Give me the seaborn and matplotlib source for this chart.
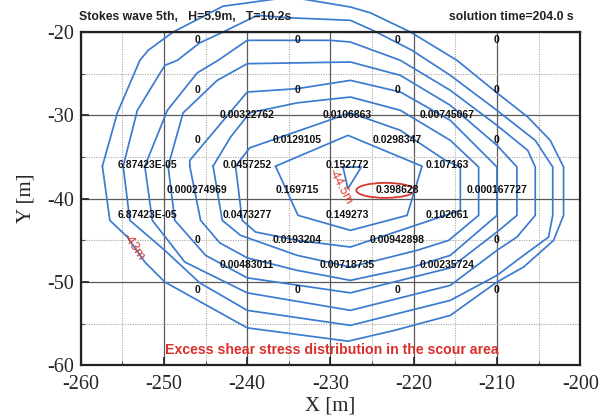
import matplotlib
matplotlib.use('Agg')
import pandas as pd
import matplotlib.pyplot as plt
import seaborn as sns
from matplotlib.patches import Ellipse
from matplotlib.ticker import MultipleLocator

# contour rings, outermost first
ring1_x = [-257.4, -255.6, -252.9, -251.9, -248.9, -242.9, -234.8, -227.6, -225.2, -220.4, -214.8, -210.0, -206.3,
           -203.6, -202.0, -202.0, -203.2, -206.8, -210.0, -215.6, -222.3, -227.9, -240.0, -249.9, -252.3, -254.4, -256.5]
ring1_y = [-36.1, -29.7, -23.4, -22.2, -20.0, -16.9, -15.8, -17.0, -17.7, -20.0, -23.4, -27.3, -30.2,
           -33.0, -36.2, -42.0, -45.0, -48.2, -50.0, -54.0, -55.8, -57.1, -55.5, -50.0, -47.6, -44.6, -42.6]
ring2_x = [-254.9, -253.2, -249.9, -248.4, -245.7, -242.9, -238.8, -234.8, -227.6, -224.9, -220.2, -215.6, -210.0,
           -205.4, -203.3, -203.3, -203.8, -206.8, -210.0, -215.6, -227.6, -240.0, -245.7, -249.9, -254.1]
ring2_y = [-36.1, -29.4, -24.0, -23.4, -21.3, -20.0, -18.0, -18.3, -18.6, -19.8, -22.2, -25.2, -29.4,
           -33.0, -36.2, -42.0, -44.6, -46.8, -49.2, -52.2, -55.2, -53.4, -50.1, -46.2, -42.6]
ring3_x = [-252.3, -249.6, -246.0, -243.5, -240.0, -230.0, -227.6, -221.6, -215.6, -210.0, -206.3, -205.4,
           -205.4, -207.6, -210.0, -215.6, -227.6, -240.0, -247.5, -251.4]
ring3_y = [-36.1, -29.4, -24.9, -23.4, -21.0, -21.0, -21.2, -23.4, -27.0, -31.2, -34.2, -36.2,
           -42.0, -44.6, -46.2, -50.4, -53.4, -51.3, -47.6, -42.6]
ring4_x = [-249.5, -247.7, -243.6, -240.0, -227.6, -221.6, -215.6, -210.0, -207.6, -207.6, -210.0, -215.6,
           -227.6, -240.0, -245.0, -248.7]
ring4_y = [-36.1, -29.7, -25.8, -23.8, -23.6, -25.2, -28.8, -33.6, -36.2, -42.0, -44.0, -48.3,
           -51.3, -49.5, -46.8, -42.6]
ring5_x = [-246.9, -246.9, -240.0, -234.0, -227.6, -221.6, -215.6, -210.0, -210.0, -215.6, -220.1, -227.6,
           -234.0, -240.0, -243.3, -245.6]
ring5_y = [-36.1, -35.4, -27.2, -26.8, -25.8, -27.2, -30.6, -36.2, -42.0, -46.8, -48.2, -49.8,
           -48.6, -47.1, -45.3, -42.6]
ring6_x = [-244.1, -242.0, -239.7, -234.0, -227.6, -221.6, -215.6, -212.2, -212.2, -215.8, -219.6, -227.6,
           -234.0, -240.8, -243.0]
ring6_y = [-36.1, -32.6, -29.7, -28.5, -27.8, -29.4, -33.0, -36.2, -42.0, -45.0, -46.2, -48.2,
           -46.8, -44.4, -42.6]
ring7_x = [-241.4, -239.7, -227.6, -221.6, -216.2, -214.4, -214.4, -220.4, -227.6, -234.0, -239.0, -240.6]
ring7_y = [-36.1, -33.9, -29.7, -31.8, -35.4, -36.2, -41.4, -43.4, -45.8, -45.0, -44.0, -42.6]
ring8_x = [-236.6, -227.9, -219.0, -220.8, -227.6, -233.9]
ring8_y = [-36.1, -32.4, -36.1, -42.0, -43.8, -42.0]
ring9_x = [-228.5, -226.3, -227.9]
ring9_y = [-36.2, -36.2, -38.8]

# nodal values of excess shear stress
node_x = [-246, -234, -222, -210,
          -246, -234, -222, -210,
          -240, -228, -216,
          -246, -234, -222, -210,
          -252, -240, -228, -216,
          -246, -234, -222, -210,
          -252, -240, -228, -216,
          -246, -234, -222, -210,
          -240, -228, -216,
          -246, -234, -222, -210]
node_y = [-21] * 4 + [-27] * 4 + [-30] * 3 + [-33] * 4 + [-36] * 4 + [-39] * 4 + [-42] * 4 + [-45] * 4 + \
         [-48] * 3 + [-51] * 4
node_val = ['0', '0', '0', '0',
            '0', '0', '0', '0',
            '0.00322762', '0.0106863', '0.00745067',
            '0', '0.0129105', '0.0298347', '0',
            '6.87423E-05', '0.0457252', '0.152772', '0.107163',
            '0.000274969', '0.169715', '0.398628', '0.000167727',
            '6.87423E-05', '0.0473277', '0.149273', '0.102061',
            '0', '0.0193204', '0.00942898', '0',
            '0.00483011', '0.00718735', '0.00235724',
            '0', '0', '0', '0']

rings = [(ring1_x, ring1_y), (ring2_x, ring2_y), (ring3_x, ring3_y), (ring4_x, ring4_y), (ring5_x, ring5_y),
         (ring6_x, ring6_y), (ring7_x, ring7_y), (ring8_x, ring8_y), (ring9_x, ring9_y)]
frames = []
for i, (rx, ry) in enumerate(rings):
    frames.append(pd.DataFrame({'x': rx + rx[:1], 'y': ry + ry[:1], 'ring': i}))
df = pd.concat(frames, ignore_index=True)

sns.set_theme(style='ticks')
plt.rcParams['font.family'] = ['Liberation Serif', 'DejaVu Serif']
plt.rcParams['axes.unicode_minus'] = False

fig = plt.figure(figsize=(6.13, 4.19), dpi=100)
ax = fig.add_axes([0.1317, 0.128, 0.8148, 0.7956])
ax.set_axisbelow(True)

sns.lineplot(data=df, x='x', y='y', units='ring', estimator=None, sort=False, color='#3b7bd0',
             lw=1.25, ax=ax, legend=False, clip_on=False)

for x, y, t in zip(node_x, node_y, node_val):
    ax.text(x, y, t, ha='center', va='center', fontsize=7.5, fontweight='bold',
            family='Liberation Sans', color='#111111')

ax.add_patch(Ellipse((-223.4, -39.0), 7.0, 1.8, ec='#d63a2e', fc='none', lw=1.3))
ax.text(-253.7, -45.8, '-43m', rotation=-56, ha='center', va='center', fontsize=9.5,
        family='Liberation Sans', color='#e0352b')
ax.text(-228.8, -38.6, '-44.5m', rotation=-62, ha='center', va='center', fontsize=9,
        family='Liberation Sans', color='#e0352b')
ax.text(-229.8, -58.2, 'Excess shear stress distribution in the scour area', ha='center', va='center',
        fontsize=10.2, fontweight='bold', family='Liberation Sans', color='#d9302c')

fig.text(0.129, 0.959, 'Stokes wave 5th,   H=5.9m,   T=10.2s', ha='left', va='center', fontsize=8.8,
         fontweight='bold', family='Liberation Sans', color='#222222')
fig.text(0.935, 0.959, 'solution time=204.0 s', ha='right', va='center', fontsize=8.8,
         fontweight='bold', family='Liberation Sans', color='#222222')

ax.set_xlim(-260, -200)
ax.set_ylim(-60, -20)
ax.set_xticks(range(-260, -199, 10))
ax.set_yticks(range(-60, -19, 10))
ax.xaxis.set_minor_locator(MultipleLocator(5))
ax.yaxis.set_minor_locator(MultipleLocator(5))
ax.grid(which='major', color='#5a5a5a', lw=0.9, ls='-')
ax.grid(which='minor', color='#a8a8a8', lw=0.8, ls=(0, (1, 1.2)))
ax.tick_params(which='major', direction='in', length=6, width=1.2, labelsize=14.5, color='#222222')
ax.tick_params(axis='x', which='major', pad=7)
ax.tick_params(axis='y', which='major', pad=5)
ax.tick_params(which='minor', direction='in', length=3, width=0.8, color='#555555')
for s in ax.spines.values():
    s.set_linewidth(1.6)
    s.set_color('#222222')
ax.set_xlabel('X [m]', fontsize=15, labelpad=2)
ax.set_ylabel('Y [m]', fontsize=15, labelpad=8)

fig.savefig('out.png', dpi=100)
